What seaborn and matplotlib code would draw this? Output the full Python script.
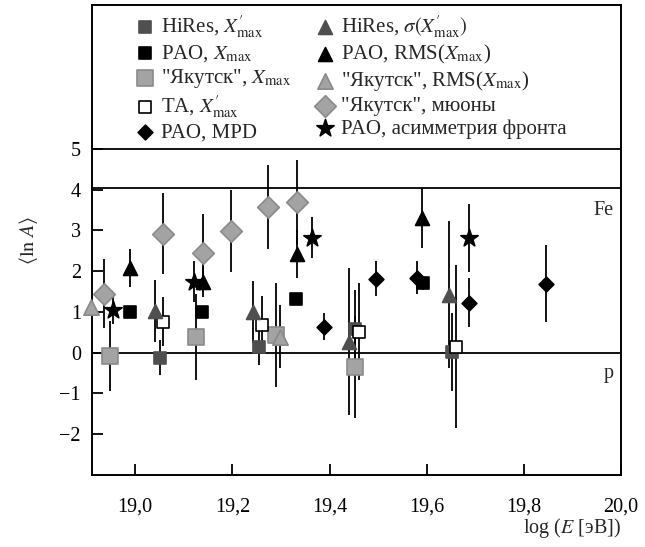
import numpy as np
import pandas as pd
import matplotlib
matplotlib.use("Agg")
import matplotlib.pyplot as plt
import seaborn as sns
from matplotlib.ticker import FuncFormatter

# data: log(E), <lnA>, error
hires_x_x = [19.052, 19.254, 19.452, 19.653]
hires_x_y = [-0.12, 0.15, 0.59, 0.02]
hires_x_e = [0.42, 0.45, 0.95, 0.95]

pao_x_x = [18.990, 19.138, 19.332, 19.592]
pao_x_y = [1.00, 1.00, 1.32, 1.70]
pao_x_e = [0.15, 0.12, 0.12, 0.15]

yak_x_x = [18.948, 19.126, 19.289, 19.452]
yak_x_y = [-0.07, 0.39, 0.44, -0.34]
yak_x_e = [0.86, 1.05, 1.27, 1.25]

ta_x = [19.058, 19.260, 19.460, 19.660]
ta_y = [0.76, 0.69, 0.52, 0.15]
ta_e = [0.60, 0.70, 1.20, 2.00]

mpd_x = [19.388, 19.495, 19.581, 19.687, 19.845]
mpd_y = [0.64, 1.81, 1.84, 1.23, 1.69]
mpd_e = [0.33, 0.43, 0.40, 0.60, 0.94]

hires_s_x = [19.041, 19.243, 19.441, 19.645]
hires_s_y = [1.03, 1.00, 0.27, 1.42]
hires_s_e = [0.76, 0.75, 1.80, 1.80]

pao_rms_x = [18.990, 19.140, 19.334, 19.590]
pao_rms_y = [2.08, 1.74, 2.43, 3.31]
pao_rms_e = [0.47, 0.37, 0.59, 0.73]

yak_rms_x = [18.910, 19.299]
yak_rms_y = [1.12, 0.39]
yak_rms_e = [0.0, 0.77]

yak_mu_x = [18.936, 19.058, 19.140, 19.198, 19.274, 19.334]
yak_mu_y = [1.45, 2.92, 2.45, 2.99, 3.58, 3.70]
yak_mu_e = [0.85, 1.00, 0.95, 1.00, 1.03, 1.03]

asym_x = [18.955, 19.122, 19.363, 19.687]
asym_y = [1.05, 1.74, 2.82, 2.82]
asym_e = [0.35, 0.50, 0.50, 0.83]

sns.set_style("ticks")
plt.rcParams['font.family'] = ['Liberation Serif', 'DejaVu Serif']
plt.rcParams['mathtext.fontset'] = 'stix'
plt.rcParams['axes.unicode_minus'] = True

dark = "#4f4f4f"
grey = "#a3a3a3"
grey_edge = "#8a8a8a"

xpm = r"X_{\mathrm{max}}^{\prime}"
xm = r"X_{\mathrm{max}}"

# (label, x, y, err, marker, size, face, edge)
series = [
    (f"HiRes, ${xpm}$", hires_x_x, hires_x_y, hires_x_e, "s", 8, dark, dark),
    (f"PAO, ${xm}$", pao_x_x, pao_x_y, pao_x_e, "s", 8, "black", "black"),
    (f"\"Якутск\", ${xm}$", yak_x_x, yak_x_y, yak_x_e, "s", 11, grey, grey_edge),
    (f"TA, ${xpm}$", ta_x, ta_y, ta_e, "s", 8.5, "white", "black"),
    ("PAO, MPD", mpd_x, mpd_y, mpd_e, "D", 7.5, "black", "black"),
    (f"HiRes, $\\sigma({xpm})$", hires_s_x, hires_s_y, hires_s_e, "^", 10, dark, dark),
    (f"PAO, RMS(${xm}$)", pao_rms_x, pao_rms_y, pao_rms_e, "^", 10, "black", "black"),
    (f"\"Якутск\", RMS(${xm}$)", yak_rms_x, yak_rms_y, yak_rms_e, "^", 11, grey, grey_edge),
    ("\"Якутск\", мюоны", yak_mu_x, yak_mu_y, yak_mu_e, "D", 11, grey, grey_edge),
    ("PAO, асимметрия фронта", asym_x, asym_y, asym_e, "*", 13, "black", "black"),
]

fig = plt.figure(figsize=(6.45, 5.47), dpi=100)
ax = fig.add_axes([0.1426, 0.1316, 0.8202, 0.8593])

for lab, x, y, e, m, ms, fc, ec in series:
    df = pd.DataFrame({"x": x, "y": y, "e": e})
    ax.errorbar(df["x"], df["y"], yerr=df["e"], fmt="none", ecolor="black",
                elinewidth=1.3, capsize=0, zorder=2, clip_on=False)
    sns.scatterplot(data=df, x="x", y="y", marker=m, s=ms ** 2, color=fc,
                    edgecolor=ec, linewidth=1.2, ax=ax, label=lab, zorder=3,
                    clip_on=False)

for yy in [0, 4.03, 5]:
    ax.axhline(yy, color="black", lw=1.3, zorder=1)

ax.set_xlim(18.911, 20.0)
ax.set_ylim(-3.0, 8.53)
ax.set_xticks([19.0, 19.2, 19.4, 19.6, 19.8, 20.0])
ax.set_yticks([-2, -1, 0, 1, 2, 3, 4, 5])
ax.xaxis.set_major_formatter(FuncFormatter(lambda v, p: f"{v:.1f}".replace(".", ",")))
ax.tick_params(direction="in", length=8, width=1.3, labelsize=14.5, colors="black",
               pad=8)
ax.tick_params(axis="x", pad=16)
for s in ax.spines.values():
    s.set_linewidth(1.4)
    s.set_color("black")

ax.text(19.985, 3.5, "Fe", ha="right", va="center", fontsize=14.5)
ax.text(19.985, -0.5, "p", ha="right", va="center", fontsize=14.5)

ax.set_xlabel("log ($E$ [эВ])", fontsize=14.5, ha="right")
ax.xaxis.set_label_coords(1.0, -0.088)
ax.set_ylabel(r"$\langle\ln\,A\rangle$", fontsize=14.5, labelpad=14)

leg = ax.legend(loc="upper left", bbox_to_anchor=(0.06, 1.0), ncol=2, frameon=False,
                fontsize=15, handletextpad=0.2, columnspacing=1.0,
                labelspacing=0.15, borderaxespad=0.0, handlelength=1.2)

fig.savefig("out.png", dpi=100)
